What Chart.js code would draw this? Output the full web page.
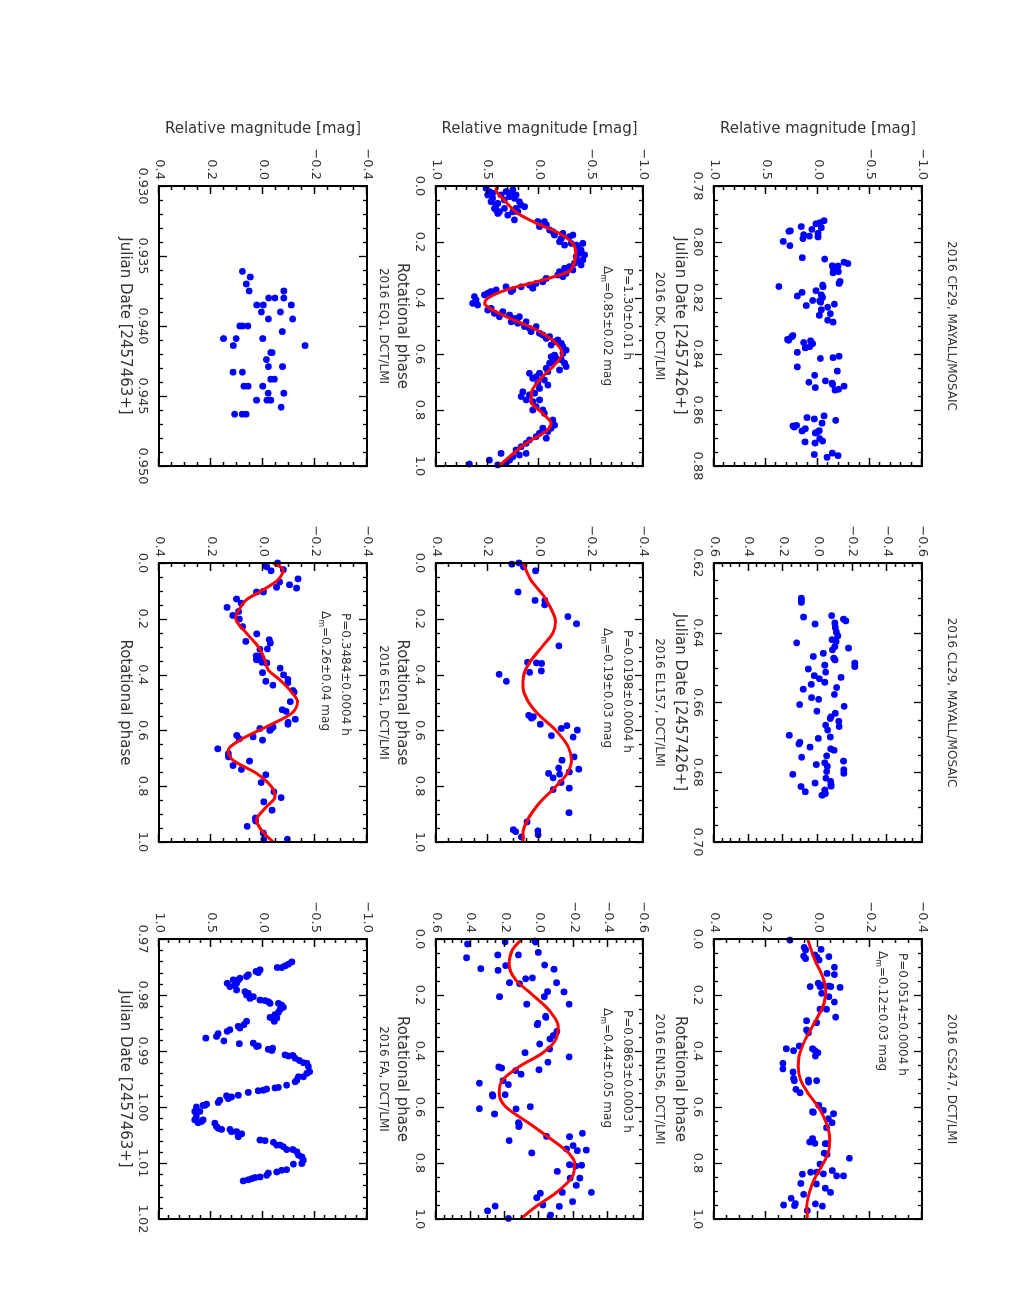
<!DOCTYPE html>
<html>
<head>
<meta charset="utf-8">
<title>Lightcurves</title>
<script src="https://cdn.jsdelivr.net/npm/chart.js@4.4.0/dist/chart.umd.min.js"></script>
<style>
  html, body { margin: 0; padding: 0; background: #fff; overflow: hidden; }
  #page {
    position: absolute; left: 0; top: 0;
    width: 1308px; height: 1011px;
    transform-origin: 0 0;
    transform: translate(1011px, 0) rotate(90deg);
  }
  #page canvas { position: absolute; }
</style>
</head>
<body>
<div id="page"></div>
<script>
// ---- data: [x, relative magnitude] ----
const cf29 = [[0.7924,-0.058],[0.7935,0.019],[0.7931,-0.019],[0.7945,0.161],[0.7955,0.058],[0.7949,-0.032],[0.7962,0.280],[0.7960,0.267],[0.7979,0.084],[0.7974,0.138],[0.7969,0.000],[0.7988,0.145],[0.7982,0.000],[0.7998,0.334],[0.8013,0.270],[0.8056,0.151],[0.8061,-0.064],[0.8072,-0.251],[0.8077,-0.286],[0.8085,-0.138],[0.8086,-0.193],[0.8096,-0.148],[0.8106,-0.196],[0.8110,-0.145],[0.8141,-0.212],[0.8148,-0.203],[0.8159,0.376],[0.8154,-0.045],[0.8160,-0.048],[0.8180,0.154],[0.8174,0.019],[0.8193,0.199],[0.8189,-0.032],[0.8198,-0.045],[0.8209,0.051],[0.8215,-0.026],[0.8210,-0.016],[0.8227,0.113],[0.8222,-0.158],[0.8233,-0.093],[0.8242,-0.032],[0.8256,-0.119],[0.8262,-0.013],[0.8279,-0.093],[0.8286,-0.145],[0.8334,0.241],[0.8339,0.254],[0.8348,0.293],[0.8351,0.283],[0.8359,0.138],[0.8353,0.071],[0.8363,0.051],[0.8378,0.122],[0.8374,0.080],[0.8394,0.199],[0.8408,-0.203],[0.8413,-0.145],[0.8416,-0.023],[0.8446,0.199],[0.8461,-0.186],[0.8476,0.032],[0.8496,-0.071],[0.8501,0.087],[0.8504,-0.135],[0.8509,-0.141],[0.8515,-0.251],[0.8520,0.026],[0.8529,-0.164],[0.8526,-0.199],[0.8621,-0.058],[0.8627,0.106],[0.8632,0.035],[0.8637,-0.170],[0.8647,-0.039],[0.8655,0.206],[0.8657,0.241],[0.8661,0.228],[0.8667,0.122],[0.8675,0.154],[0.8682,0.026],[0.8674,-0.013],[0.8678,0.003],[0.8702,-0.016],[0.8711,-0.045],[0.8714,0.125],[0.8718,0.029],[0.8759,0.035],[0.8769,-0.087],[0.8754,-0.138],[0.8763,-0.193]];

const cl29 = [[0.6301,0.096],[0.6307,0.096],[0.6313,0.096],[0.6355,0.083],[0.6351,-0.079],[0.6361,-0.147],[0.6366,-0.160],[0.6375,0.017],[0.6372,-0.097],[0.6385,-0.100],[0.6398,-0.106],[0.6409,-0.114],[0.6420,-0.081],[0.6425,-0.104],[0.6429,0.123],[0.6440,-0.097],[0.6444,-0.176],[0.6449,-0.083],[0.6459,-0.031],[0.6468,0.027],[0.6473,-0.091],[0.6478,-0.098],[0.6487,-0.212],[0.6497,-0.212],[0.6493,-0.039],[0.6504,0.056],[0.6513,-0.044],[0.6523,0.021],[0.6528,-0.133],[0.6532,-0.008],[0.6548,0.039],[0.6542,-0.039],[0.6557,-0.108],[0.6562,0.085],[0.6577,-0.095],[0.6586,0.037],[0.6591,-0.004],[0.6606,0.106],[0.6611,-0.151],[0.6625,0.006],[0.6631,-0.100],[0.6641,-0.075],[0.6646,-0.070],[0.6654,-0.120],[0.6669,-0.122],[0.6665,-0.044],[0.6679,-0.056],[0.6694,0.166],[0.6703,-0.002],[0.6699,-0.071],[0.6719,0.110],[0.6714,0.104],[0.6728,0.046],[0.6733,-0.073],[0.6737,-0.093],[0.6753,-0.050],[0.6757,0.094],[0.6768,-0.147],[0.6773,-0.039],[0.6778,0.010],[0.6783,-0.054],[0.6793,-0.149],[0.6798,-0.050],[0.6803,-0.149],[0.6806,0.145],[0.6817,-0.046],[0.6826,-0.073],[0.6831,0.017],[0.6835,-0.075],[0.6840,-0.075],[0.6841,0.098],[0.6856,0.073],[0.6851,-0.039],[0.6861,-0.041],[0.6866,-0.023],[0.6861,-0.043]];

const cs247 = [[0.004,0.108],[0.030,0.053],[0.039,0.048],[0.037,-0.012],[0.061,0.055],[0.070,0.048],[0.057,0.012],[0.065,0.004],[0.063,-0.042],[0.075,-0.004],[0.101,-0.063],[0.123,-0.035],[0.127,-0.063],[0.158,-0.001],[0.170,0.030],[0.170,-0.008],[0.165,-0.021],[0.168,-0.042],[0.170,-0.049],[0.173,-0.085],[0.194,-0.014],[0.206,-0.042],[0.225,-0.063],[0.251,-0.008],[0.251,-0.033],[0.279,-0.068],[0.292,0.044],[0.325,0.044],[0.335,0.037],[0.299,0.005],[0.382,0.072],[0.392,0.122],[0.399,0.094],[0.392,0.021],[0.399,0.012],[0.406,0.001],[0.418,0.010],[0.444,0.135],[0.464,0.135],[0.475,0.096],[0.498,0.094],[0.506,0.091],[0.504,0.037],[0.506,0.005],[0.511,0.036],[0.537,0.085],[0.549,0.069],[0.594,-0.003],[0.617,0.021],[0.612,-0.021],[0.624,-0.060],[0.619,0.018],[0.642,-0.040],[0.656,-0.054],[0.674,-0.033],[0.725,0.032],[0.713,0.021],[0.730,0.012],[0.731,-0.028],[0.731,-0.035],[0.765,-0.024],[0.769,-0.035],[0.783,-0.121],[0.804,-0.008],[0.840,0.060],[0.833,0.028],[0.833,0.005],[0.839,-0.021],[0.827,-0.055],[0.846,-0.072],[0.846,-0.098],[0.873,0.066],[0.875,0.006],[0.890,-0.028],[0.905,-0.048],[0.912,0.055],[0.926,0.103],[0.950,0.132],[0.945,0.087],[0.952,0.090],[0.946,0.010],[0.954,-0.017],[0.970,0.041]];
const cs247Fit = [[0,0.040],[0.075,0.012],[0.134,-0.018],[0.182,-0.030],[0.230,-0.023],[0.290,0.008],[0.361,0.050],[0.420,0.073],[0.456,0.076],[0.504,0.067],[0.551,0.038],[0.599,0.000],[0.658,-0.032],[0.718,-0.045],[0.765,-0.039],[0.813,-0.013],[0.861,0.016],[0.908,0.034],[0.956,0.043],[1.0,0.041]];

const dk = [[0.008,0.516],[0.020,0.484],[0.032,0.500],[0.044,0.452],[0.056,0.468],[0.068,0.419],[0.062,0.403],[0.080,0.435],[0.092,0.387],[0.098,0.403],[0.080,0.339],[0.050,0.339],[0.038,0.290],[0.026,0.274],[0.014,0.258],[0.032,0.226],[0.044,0.242],[0.056,0.194],[0.068,0.177],[0.080,0.226],[0.074,0.145],[0.092,0.258],[0.092,0.210],[0.104,0.306],[0.121,0.242],[0.032,0.371],[0.020,0.323],[0.026,0.452],[0.086,0.419],
  [0.127,0.016],[0.127,-0.048],[0.139,-0.065],[0.145,0.000],[0.157,-0.097],[0.163,-0.129],[0.175,-0.145],[0.169,-0.226],[0.187,-0.210],[0.181,-0.290],[0.175,-0.323],[0.199,-0.194],[0.211,-0.242],[0.205,-0.306],[0.211,-0.355],[0.205,-0.419],[0.217,-0.371],
  [0.229,-0.403],[0.240,-0.387],[0.246,-0.435],[0.252,-0.355],[0.264,-0.419],[0.270,-0.371],[0.276,-0.339],[0.282,-0.403],[0.288,-0.290],[0.300,-0.323],[0.294,-0.242],[0.306,-0.194],[0.312,-0.258],[0.324,-0.226],[0.318,-0.177],
  [0.330,-0.065],[0.342,-0.032],[0.348,0.032],[0.354,0.097],[0.365,0.065],[0.360,0.177],[0.371,0.258],[0.360,0.323],[0.377,0.274],[0.371,0.419],[0.377,0.468],[0.383,0.500],[0.389,0.532],[0.395,0.629],[0.407,0.613],[0.419,0.645],[0.425,0.597],
  [0.443,0.500],[0.437,0.468],[0.455,0.435],[0.449,0.355],[0.467,0.387],[0.461,0.290],[0.473,0.242],[0.467,0.194],[0.485,0.274],[0.490,0.210],[0.485,0.129],[0.502,0.145],[0.508,0.097],[0.520,0.081],[0.502,0.032],[0.526,0.000],[0.532,-0.032],[0.544,-0.065],[0.538,-0.097],[0.556,-0.145],[0.568,-0.113],[0.550,-0.177],[0.562,-0.210],[0.574,-0.226],
  [0.586,-0.258],[0.598,-0.226],[0.604,-0.145],[0.615,-0.161],[0.621,-0.210],[0.633,-0.242],[0.645,-0.258],[0.657,-0.194],[0.627,-0.129],[0.633,-0.097],[0.610,-0.113],[0.651,-0.065],[0.663,-0.081],[0.669,0.000],[0.681,0.032],[0.669,0.097],[0.687,0.065],[0.693,-0.048],
  [0.705,0.016],[0.711,-0.081],[0.723,0.000],[0.740,0.048],[0.746,0.097],[0.735,0.161],[0.752,0.177],[0.764,0.129],[0.770,0.065],[0.764,0.000],[0.788,0.032],[0.800,-0.032],[0.800,0.065],[0.812,-0.048],
  [0.836,-0.129],[0.854,-0.145],[0.865,-0.113],[0.877,-0.081],[0.865,-0.032],[0.883,0.000],[0.901,-0.065],[0.895,0.032],[0.907,0.097],
  [0.919,0.129],[0.931,0.177],[0.943,0.226],[0.955,0.129],[0.961,0.194],[0.967,0.258],[0.979,0.290],[0.955,0.371],[0.990,0.323],[0.979,0.484],[0.993,0.677],[0.996,0.403]];
const dkFit = [[0,0.40],[0.014,0.42],[0.050,0.34],[0.098,0.21],[0.133,0.03],[0.169,-0.19],[0.205,-0.32],[0.238,-0.35],[0.288,-0.32],[0.306,-0.28],[0.336,-0.03],[0.371,0.32],[0.401,0.50],[0.419,0.53],[0.437,0.48],[0.467,0.32],[0.514,0.03],[0.562,-0.16],[0.598,-0.22],[0.633,-0.16],[0.693,0.00],[0.740,0.08],[0.770,0.08],[0.812,-0.03],[0.848,-0.11],[0.871,-0.08],[0.919,0.13],[0.967,0.29],[1.0,0.39]];

const el157 = [[0.004,0.107],[0.000,0.079],[0.014,0.062],[0.028,0.015],[0.104,0.083],[0.134,0.017],[0.150,-0.020],[0.134,-0.021],[0.192,-0.110],[0.218,-0.143],[0.297,-0.075],[0.356,0.046],[0.358,0.012],[0.360,-0.008],[0.392,0.038],[0.387,-0.007],[0.399,0.156],[0.424,0.128],[0.546,0.042],[0.556,0.031],[0.551,0.024],[0.578,-0.003],[0.583,-0.106],[0.593,-0.084],[0.599,-0.146],[0.619,-0.046],[0.624,-0.130],[0.695,-0.134],[0.707,-0.087],[0.739,-0.152],[0.735,-0.074],[0.749,-0.115],[0.754,-0.035],[0.757,-0.078],[0.770,-0.053],[0.787,-0.083],[0.812,-0.053],[0.807,-0.115],[0.895,-0.114],[0.928,0.048],[0.956,0.101],[0.963,0.092],[0.960,0.006],[0.974,0.005],[0.982,0.070]];
const el157Fit = [[0,0.064],[0.060,0.034],[0.120,-0.017],[0.180,-0.053],[0.210,-0.062],[0.251,-0.052],[0.299,-0.011],[0.359,0.040],[0.407,0.062],[0.443,0.064],[0.491,0.047],[0.539,0.008],[0.599,-0.062],[0.659,-0.111],[0.707,-0.124],[0.754,-0.107],[0.802,-0.062],[0.862,0.002],[0.922,0.047],[0.970,0.064],[1.0,0.064]];

const en156 = [[0.010,0.199],[0.007,0.026],[0.011,0.022],[0.018,0.417],[0.048,0.007],[0.067,0.423],[0.057,0.242],[0.057,0.122],[0.093,-0.030],[0.108,-0.084],[0.106,0.340],[0.095,0.196],[0.112,0.240],[0.139,0.041],[0.142,0.080],[0.156,-0.099],[0.156,0.174],[0.160,0.115],[0.188,-0.047],[0.189,-0.142],[0.206,-0.028],[0.206,0.232],[0.233,0.074],[0.233,-0.172],[0.276,-0.036],[0.280,-0.037],[0.301,0.009],[0.306,0.013],[0.330,-0.101],[0.345,-0.080],[0.357,-0.061],[0.375,-0.001],[0.406,0.084],[0.393,-0.059],[0.421,-0.172],[0.440,-0.049],[0.467,0.003],[0.457,0.236],[0.461,0.219],[0.470,0.138],[0.483,0.107],[0.515,0.348],[0.506,0.211],[0.520,0.180],[0.556,0.273],[0.561,0.271],[0.556,0.199],[0.606,0.348],[0.607,0.136],[0.599,0.053],[0.625,0.261],[0.656,0.122],[0.670,0.120],[0.662,0.117],[0.720,0.176],[0.705,-0.041],[0.706,-0.174],[0.694,-0.249],[0.738,-0.195],[0.750,-0.157],[0.754,-0.271],[0.756,-0.219],[0.764,0.045],[0.830,-0.103],[0.806,-0.174],[0.811,-0.209],[0.808,-0.244],[0.854,-0.234],[0.854,-0.178],[0.880,-0.213],[0.905,-0.301],[0.905,-0.132],[0.908,-0.005],[0.924,0.016],[0.938,-0.192],[0.950,-0.020],[0.955,-0.115],[0.954,0.257],[0.971,0.301],[0.998,0.180],[0.986,-0.064]];
const en156Fit = [[0,0.103],[0.039,0.157],[0.093,0.176],[0.146,0.138],[0.194,0.051],[0.254,-0.055],[0.313,-0.109],[0.361,-0.093],[0.408,-0.016],[0.456,0.118],[0.504,0.215],[0.551,0.234],[0.599,0.196],[0.658,0.061],[0.718,-0.074],[0.765,-0.170],[0.801,-0.205],[0.849,-0.190],[0.908,-0.093],[0.956,0.022],[1.0,0.109]];

const eq1 = [[0.9361,0.079],[0.9365,0.049],[0.9370,0.064],[0.9375,0.053],[0.9375,-0.080],[0.9380,-0.022],[0.9380,-0.046],[0.9380,-0.080],[0.9385,0.024],[0.9385,-0.001],[0.9385,-0.109],[0.9390,0.006],[0.9390,-0.067],[0.9395,-0.021],[0.9395,-0.114],[0.9400,0.089],[0.9400,0.078],[0.9400,0.058],[0.9404,-0.074],[0.9409,0.152],[0.9409,0.103],[0.9409,0.001],[0.9414,0.114],[0.9414,-0.162],[0.9419,-0.030],[0.9419,-0.035],[0.9424,-0.013],[0.9429,-0.021],[0.9429,-0.075],[0.9433,0.115],[0.9433,0.079],[0.9438,-0.030],[0.9438,-0.044],[0.9443,0.073],[0.9443,0.057],[0.9443,0.001],[0.9448,-0.020],[0.9448,-0.080],[0.9453,0.025],[0.9453,-0.015],[0.9453,-0.030],[0.9458,-0.070],[0.9463,0.109],[0.9463,0.080],[0.9463,0.065]];

const es1 = [[0.000,-0.056],[0.010,-0.010],[0.014,-0.015],[0.028,-0.031],[0.024,-0.078],[0.057,-0.135],[0.090,-0.129],[0.078,-0.102],[0.068,-0.064],[0.087,-0.052],[0.102,-0.001],[0.104,0.025],[0.104,-0.001],[0.129,0.102],[0.144,0.084],[0.159,0.138],[0.174,0.094],[0.188,0.116],[0.201,0.091],[0.228,0.078],[0.281,0.066],[0.254,0.024],[0.275,-0.024],[0.287,-0.028],[0.308,-0.017],[0.309,0.012],[0.333,0.010],[0.333,0.026],[0.347,0.025],[0.356,0.004],[0.358,-0.015],[0.359,-0.013],[0.393,0.002],[0.424,-0.011],[0.438,-0.038],[0.377,-0.066],[0.417,-0.096],[0.429,-0.096],[0.401,-0.079],[0.457,-0.115],[0.463,-0.120],[0.497,-0.105],[0.526,-0.074],[0.532,-0.089],[0.560,-0.124],[0.571,-0.097],[0.578,-0.096],[0.588,-0.039],[0.595,-0.031],[0.600,-0.026],[0.593,0.012],[0.623,0.038],[0.635,0.002],[0.618,0.101],[0.630,0.091],[0.666,0.174],[0.683,0.133],[0.695,0.133],[0.726,0.115],[0.740,0.083],[0.710,0.052],[0.759,-0.011],[0.787,0.007],[0.820,-0.042],[0.841,-0.070],[0.856,-0.003],[0.886,-0.035],[0.914,0.029],[0.925,0.028],[0.944,0.061],[0.968,-0.001],[0.990,-0.094],[0.992,-0.003]];
const es1Fit = [[0,-0.039],[0.024,-0.078],[0.060,-0.058],[0.096,-0.001],[0.132,0.064],[0.156,0.085],[0.198,0.105],[0.251,0.064],[0.299,0.019],[0.347,-0.007],[0.383,-0.020],[0.419,-0.065],[0.467,-0.114],[0.497,-0.133],[0.539,-0.110],[0.587,-0.013],[0.635,0.089],[0.671,0.134],[0.707,0.115],[0.754,0.025],[0.802,-0.033],[0.838,-0.046],[0.874,-0.013],[0.922,0.025],[0.958,0.006],[1.0,-0.039]];

const fa = [[0.9741,-0.277],[0.9745,-0.244],[0.9748,-0.212],[0.9751,-0.180],[0.9751,-0.138],[0.9755,0.029],[0.9760,0.045],[0.9758,0.068],[0.9764,0.141],[0.9767,0.158],[0.9770,0.222],[0.9773,0.238],[0.9779,0.254],[0.9773,0.286],[0.9779,0.344],[0.9785,0.318],[0.9782,0.270],[0.9791,0.254],[0.9794,0.174],[0.9797,0.141],[0.9800,0.158],[0.9806,0.125],[0.9803,0.093],[0.9809,0.029],[0.9810,-0.019],[0.9812,-0.051],[0.9815,-0.068],[0.9815,-0.148],[0.9818,-0.180],[0.9822,-0.196],[0.9826,-0.164],[0.9831,-0.148],[0.9835,-0.116],[0.9841,-0.084],[0.9840,-0.068],[0.9847,-0.109],[0.9841,-0.132],[0.9847,0.158],[0.9853,0.183],[0.9859,0.222],[0.9856,0.238],[0.9862,0.318],[0.9865,0.344],[0.9869,0.431],[0.9874,0.447],[0.9882,0.376],[0.9877,0.550],[0.9887,0.228],[0.9886,0.093],[0.9892,0.061],[0.9891,0.045],[0.9897,-0.051],[0.9899,-0.084],[0.9895,-0.093],[0.9907,-0.212],[0.9909,-0.244],[0.9908,-0.286],[0.9913,-0.309],[0.9917,-0.350],[0.9921,-0.389],[0.9922,-0.421],[0.9928,-0.437],[0.9937,-0.447],[0.9940,-0.421],[0.9946,-0.389],[0.9946,-0.341],[0.9952,-0.325],[0.9955,-0.309],[0.9961,-0.228],[0.9965,-0.148],[0.9966,-0.116],[0.9968,-0.035],[0.9970,-0.003],[0.9971,0.045],[0.9974,0.141],[0.9979,0.238],[0.9982,0.302],[0.9985,0.334],[0.9980,0.350],[0.9988,0.415],[0.9992,0.431],[0.9995,0.543],[0.9997,0.576],[1.0000,0.640],[1.0008,0.656],[1.0017,0.640],[1.0023,0.656],[1.0028,0.624],[1.0026,0.592],[1.0023,0.576],[1.0008,0.608],[0.9997,0.559],[1.0029,0.463],[1.0035,0.447],[1.0038,0.431],[1.0040,0.399],[1.0040,0.318],[1.0044,0.302],[1.0044,0.254],[1.0053,0.238],[1.0048,0.206],[1.0059,0.029],[1.0060,-0.019],[1.0063,-0.100],[1.0068,-0.132],[1.0068,-0.164],[1.0071,-0.196],[1.0076,-0.228],[1.0076,-0.286],[1.0080,-0.325],[1.0086,-0.341],[1.0089,-0.373],[1.0095,-0.389],[1.0101,-0.373],[1.0102,-0.293],[1.0112,-0.228],[1.0113,-0.180],[1.0116,-0.132],[1.0118,-0.051],[1.0122,-0.035],[1.0125,0.029],[1.0126,0.077],[1.0128,0.109],[1.0130,0.141],[1.0132,0.190]];

// ---- labels and axis ranges ----
const titles = ['2016 CF29, MAYALL/MOSAIC', '2016 CL29, MAYALL/MOSAIC', '2016 CS247, DCT/LMI',
                '2016 DK, DCT/LMI', '2016 EL157, DCT/LMI', '2016 EN156, DCT/LMI',
                '2016 EQ1, DCT/LMI', '2016 ES1, DCT/LMI', '2016 FA, DCT/LMI'];
const xTitles = ['Julian Date [2457426+]', 'Julian Date [2457426+]', 'Rotational phase',
                 'Rotational phase', 'Rotational phase', 'Rotational phase',
                 'Julian Date [2457463+]', 'Rotational phase', 'Julian Date [2457463+]'];
const yTitle = 'Relative magnitude [mag]';
// [min, max, step, decimals]
const xRanges = [[0.78, 0.88, 0.02, 2], [0.62, 0.70, 0.02, 2], [0, 1, 0.2, 1],
                 [0, 1, 0.2, 1], [0, 1, 0.2, 1], [0, 1, 0.2, 1],
                 [0.930, 0.950, 0.005, 3], [0, 1, 0.2, 1], [0.97, 1.02, 0.01, 2]];
const yRanges = [[-1, 1, 0.5], [-0.6, 0.6, 0.2], [-0.4, 0.4, 0.2],
                 [-1, 1, 0.5], [-0.4, 0.4, 0.2], [-0.6, 0.6, 0.2],
                 [-0.4, 0.4, 0.2], [-0.4, 0.4, 0.2], [-1, 1, 0.5]];
const xMinor = [4, 4, 4, 4, 4, 4, 5, 4, 5];
const yMinor = [5, 4, 4, 5, 4, 4, 4, 4, 5];
const points = [cf29, cl29, cs247, dk, el157, en156, eq1, es1, fa];
const fits = [null, null, cs247Fit, dkFit, el157Fit, en156Fit, null, es1Fit, null];
const periods = [null, null, 'P=0.0514±0.0004 h', 'P=1.30±0.01 h', 'P=0.0198±0.0004 h', 'P=0.0863±0.0003 h', null, 'P=0.3484±0.0004 h', null];
const amplitudes = [null, null, '0.12±0.03 mag', '0.85±0.02 mag', '0.19±0.03 mag', '0.44±0.05 mag', null, '0.26±0.04 mag', null];

// ---- layout (landscape page, rotated afterwards) ----
const colLeft = [186, 563, 939], colWidth = [280, 279, 280];
const rowTop = [89, 368, 644], rowHeight = [208, 207, 208];
const titleGap = [29, 16, 16];
const noteOffset = [null, null, [14, 20], [82, 16], [67, 16], [71, 16], null, [50, 22], null];
const Y_W = 80, PAD_T = 40, PAD_R = 30, X_H = 50;
const FONT = '"DejaVu Sans", sans-serif';
const TEXT = '#333';

Chart.defaults.font.family = FONT;
Chart.defaults.color = TEXT;

function fmt(v, dec) {
    if (Math.abs(v) < 1e-9) v = 0;
    return (v < 0 ? '\u2212' : '') + Math.abs(v).toFixed(dec);
}

// frame with inward major/minor ticks on all four sides
const framePlugin = {
    id: 'frame',
    afterDraw(chart, args, o) {
        const { ctx, chartArea: a, scales: { x, y } } = chart;
        ctx.save();
        ctx.strokeStyle = '#000';
        ctx.lineWidth = 1.3;
        const drawAxisTicks = (scale, n, horiz) => {
            const vals = scale.ticks.map(t => t.value);
            for (let i = 0; i < vals.length; i++) {
                const marks = [[vals[i], 8]];
                if (i < vals.length - 1) {
                    for (let k = 1; k < n; k++) marks.push([vals[i] + (vals[i + 1] - vals[i]) * k / n, 4]);
                }
                marks.forEach(([v, len]) => {
                    const p = Math.round(scale.getPixelForValue(v)) + 0.5;
                    ctx.beginPath();
                    if (horiz) {
                        ctx.moveTo(p, a.bottom); ctx.lineTo(p, a.bottom - len);
                        ctx.moveTo(p, a.top); ctx.lineTo(p, a.top + len);
                    } else {
                        ctx.moveTo(a.left, p); ctx.lineTo(a.left + len, p);
                        ctx.moveTo(a.right, p); ctx.lineTo(a.right - len, p);
                    }
                    ctx.stroke();
                });
            }
        };
        drawAxisTicks(x, o.xMinor, true);
        drawAxisTicks(y, o.yMinor, false);
        ctx.lineWidth = 2;
        ctx.strokeRect(a.left, a.top, a.right - a.left, a.bottom - a.top);
        ctx.restore();
    }
};

// panel title above the frame and the period / amplitude note inside it
const notePlugin = {
    id: 'note',
    afterDraw(chart, args, o) {
        const { ctx, chartArea: a } = chart;
        ctx.save();
        ctx.fillStyle = TEXT;
        ctx.font = '12px ' + FONT;
        ctx.textBaseline = 'middle';
        ctx.textAlign = 'center';
        ctx.fillText(o.title, (a.left + a.right) / 2, a.top - o.gap);
        if (o.period) {
            ctx.textAlign = 'left';
            const x0 = a.left + o.off[0], y0 = a.top + o.off[1];
            ctx.fillText(o.period, x0, y0);
            let cx = x0 - 2;
            const y1 = y0 + 20;
            ctx.fillText('\u0394', cx, y1);
            cx += ctx.measureText('\u0394').width;
            ctx.font = '8px ' + FONT;
            ctx.fillText('m', cx, y1 + 4);
            cx += ctx.measureText('m').width;
            ctx.font = '12px ' + FONT;
            ctx.fillText('=' + o.amp, cx, y1);
        }
        ctx.restore();
    }
};

const page = document.getElementById('page');

points.forEach((pts, i) => {
    const row = Math.floor(i / 3), col = i % 3;
    const fw = colWidth[col], fh = rowHeight[row];
    const canvas = document.createElement('canvas');
    canvas.width = Y_W + fw + PAD_R;
    canvas.height = PAD_T + fh + X_H;
    canvas.style.left = (colLeft[col] - Y_W) + 'px';
    canvas.style.top = (rowTop[row] - PAD_T) + 'px';
    page.appendChild(canvas);

    const [xMin, xMax, xStep, xDec] = xRanges[i];
    const [yMin, yMax, yStep] = yRanges[i];

    const datasets = [];
    if (fits[i]) {
        datasets.push({
            type: 'line', data: fits[i], borderColor: '#ff0000', borderWidth: 3,
            pointRadius: 0, fill: false, cubicInterpolationMode: 'monotone'
        });
    }
    datasets.push({
        type: 'scatter', data: pts, backgroundColor: '#0000ff', borderWidth: 0,
        pointRadius: 3.4, clip: false
    });

    new Chart(canvas, {
        type: 'scatter',
        data: { datasets },
        options: {
            responsive: false,
            animation: false,
            devicePixelRatio: 1,
            layout: { padding: { top: PAD_T, right: PAD_R, left: 0, bottom: 0 } },
            plugins: {
                legend: { display: false },
                tooltip: { enabled: false },
                frame: { xMinor: xMinor[i], yMinor: yMinor[i] },
                note: { title: titles[i], gap: titleGap[row], period: periods[i], amp: amplitudes[i], off: noteOffset[i] }
            },
            scales: {
                x: {
                    type: 'linear', position: 'bottom', min: xMin, max: xMax,
                    grid: { display: false, drawTicks: false },
                    border: { display: false },
                    ticks: { stepSize: xStep, autoSkip: false, maxRotation: 0, padding: 9,
                             font: { size: 13 }, callback: v => fmt(v, xDec) },
                    title: { display: true, text: xTitles[i], font: { size: 15 }, padding: { top: 0, bottom: 7 } },
                    afterFit: s => { s.height = X_H; }
                },
                y: {
                    type: 'linear', position: 'left', min: yMin, max: yMax, reverse: true,
                    grid: { display: false, drawTicks: false },
                    border: { display: false },
                    ticks: { stepSize: yStep, autoSkip: false, padding: 6,
                             font: { size: 13 }, callback: v => fmt(v, 1) },
                    title: { display: col === 0, text: yTitle, font: { size: 15 }, padding: { top: 14, bottom: 0 } },
                    afterFit: s => { s.width = Y_W; }
                }
            }
        },
        plugins: [framePlugin, notePlugin]
    });
});
</script>
</body>
</html>
